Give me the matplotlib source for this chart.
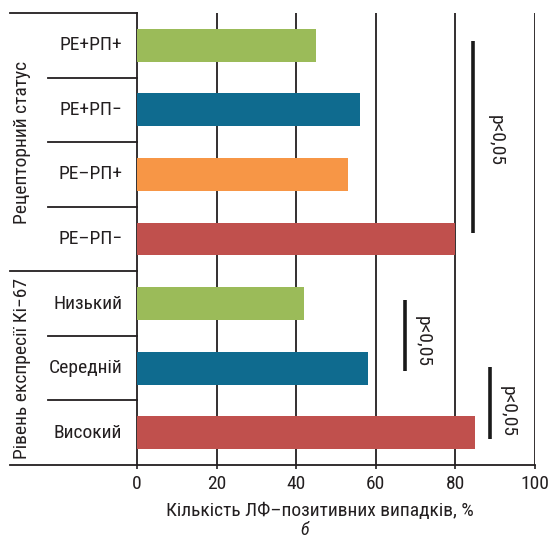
import matplotlib
matplotlib.use("Agg")
import matplotlib.pyplot as plt
import matplotlib.transforms as mtransforms

plt.rcParams["font.family"] = ["Roboto Condensed", "DejaVu Sans"]

INK = "#231F20"
FS = 14

categories = ["РЕ+РП+", "РЕ+РП−", "РЕ–РП+", "РЕ–РП−", "Низький", "Середній", "Високий"]
values = [45, 56, 53, 80, 42, 58, 85]
colors = ["#9BBB59", "#0F6B8F", "#F79646", "#C0504D", "#9BBB59", "#0F6B8F", "#C0504D"]
groups = ["Рецепторний статус", "Рівень експресії Кі−67"]
group_spans = [(0, 3), (4, 6)]
xticks = [0, 20, 40, 60, 80, 100]

# significance brackets: x, y_start, y_end, text_x, text_y
sig_x = [84.5, 67.3, 88.7]
sig_y0 = [-0.07, 3.94, 4.98]
sig_y1 = [2.90, 5.05, 6.09]
sig_tx = [90.2, 71.8, 93.2]
sig_ty = [1.48, 4.58, 5.67]
sig_text = "p<0,05"

fig = plt.figure(figsize=(5.55, 5.40), dpi=100)
ax = fig.add_axes([137 / 555, 1 - 465 / 540, 398 / 555, 452 / 540])

ypos = list(range(len(categories)))
ax.barh(ypos, values, height=0.51, color=colors, zorder=3)

ax.set_xlim(0, 100)
ax.set_ylim(6.5, -0.5)
ax.set_xticks(xticks)
ax.set_xticklabels([str(t) for t in xticks], fontsize=FS, color=INK)
ax.set_yticks([])
ax.tick_params(axis="x", length=3, width=1.2, color=INK, pad=4)
for t in xticks[1:]:
    ax.axvline(t, color=INK, lw=1.3, zorder=1)

for s in ["top", "right"]:
    ax.spines[s].set_visible(False)
for s in ["left", "bottom"]:
    ax.spines[s].set_color(INK)
    ax.spines[s].set_linewidth(1.3)

tr = mtransforms.blended_transform_factory(ax.transAxes, ax.transData)
x_outer = (10 - 137) / 398
x_inner = (48 - 137) / 398

# bottom spine extended to the left edge, plus top line
ax.plot([x_outer, 0], [6.5, 6.5], transform=tr, color=INK, lw=1.3, clip_on=False)
ax.plot([x_outer, 0], [-0.5, -0.5], transform=tr, color=INK, lw=1.3, clip_on=False)
# group separator
ax.plot([x_outer, 0], [3.5, 3.5], transform=tr, color=INK, lw=1.3, clip_on=False)
# row separators
for b in [0.5, 1.5, 2.5, 4.5, 5.5]:
    ax.plot([x_inner, 0], [b, b], transform=tr, color=INK, lw=1.3, clip_on=False)

for y, lab in zip(ypos, categories):
    ax.text(-0.037, y, lab, transform=tr, ha="right", va="center",
            fontsize=FS, color=INK)

for g, (a, b) in zip(groups, group_spans):
    ax.text((22 - 137) / 398, (a + b) / 2, g, transform=tr, rotation=90,
            ha="center", va="center", fontsize=FS, color=INK)

for x, y0, y1, tx, ty in zip(sig_x, sig_y0, sig_y1, sig_tx, sig_ty):
    ax.plot([x, x], [y0, y1], color="#1a1a1a", lw=2.6, solid_capstyle="butt", zorder=4)
    ax.text(tx, ty, sig_text, rotation=-90, ha="center", va="center",
            fontsize=FS, color=INK, zorder=4)

fig.text(320 / 555, 1 - 511 / 540, "Кількість ЛФ–позитивних випадків, %",
         fontsize=14, color=INK, ha="center", va="center")
fig.text(305 / 555, 1 - 530 / 540, "б", style="italic", fontsize=13,
         color=INK, ha="center", va="center")

fig.savefig("out.png", dpi=100)
